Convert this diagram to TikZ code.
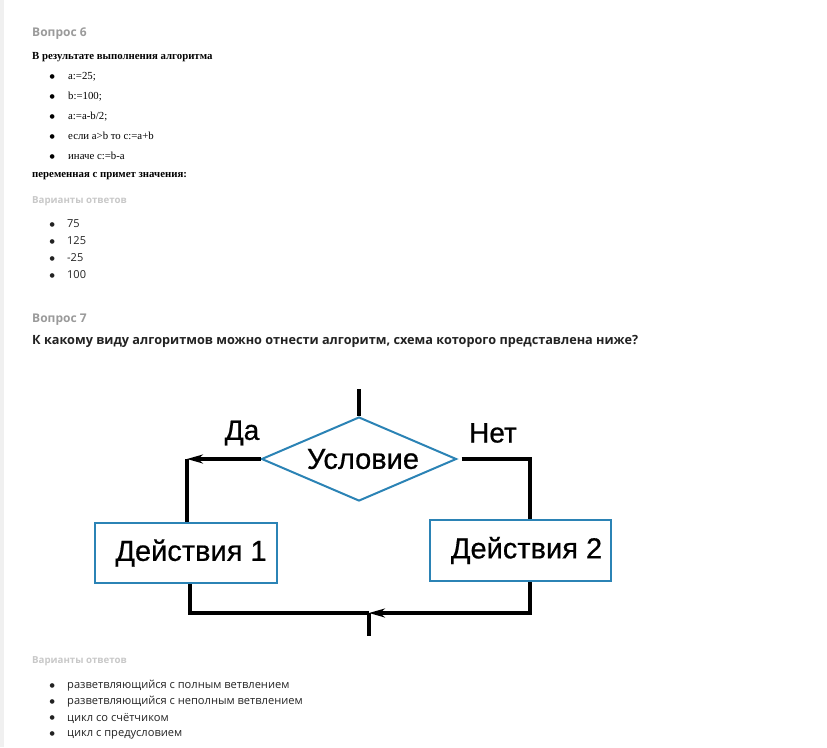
\documentclass[tikz,border=0pt]{standalone}
\usepackage{fontspec}
\setmainfont{Liberation Serif}
\newfontfamily\osans{Open Sans}
\newfontfamily\arsans[FakeBold=0.6]{Liberation Sans}
\newfontfamily\dejavu{DejaVu Sans}
\usetikzlibrary{shapes.geometric,arrows.meta}
\definecolor{qgray}{HTML}{9A9A9A}
\definecolor{lgray}{HTML}{C8C8C8}
\definecolor{txt}{HTML}{222222}
\definecolor{fblue}{HTML}{2B83B5}
\definecolor{strip}{HTML}{F0F0F0}
\newcommand{\blt}[1]{\makebox[#1][l]{\raisebox{0.12em}{\dejavu\fontsize{6}{6}\selectfont ●}}}
\begin{document}
\begin{tikzpicture}[x=1pt,y=-1pt,
  tn/.style={anchor=west,inner sep=0pt},
  qhead/.style={tn,text=qgray,font=\osans\bfseries\fontsize{12}{14}\selectfont},
  vhead/.style={tn,text=lgray,font=\osans\bfseries\fontsize{9.7}{11}\selectfont},
  serifb/.style={tn,text=black,font=\bfseries\fontsize{10.8}{12}\selectfont},
  serifi/.style={tn,text=black,font=\fontsize{10.8}{12}\selectfont},
  ans1/.style={tn,text=txt,font=\osans\fontsize{11}{13}\selectfont},
  ans2/.style={tn,text=txt,font=\osans\fontsize{11.1}{13}\selectfont},
  qtitle/.style={tn,text=txt,font=\osans\bfseries\fontsize{12.7}{15}\selectfont},
  flowbox/.style={draw=fblue,line width=2pt,rectangle,inner sep=0pt,font=\arsans\fontsize{29}{33}\selectfont},
  flowdia/.style={draw=fblue,line width=2pt,diamond,inner sep=0pt,font=\arsans\fontsize{29}{33}\selectfont},
  flowlbl/.style={inner sep=0pt,font=\arsans\fontsize{28}{32}\selectfont},
  conn/.style={line width=3.2pt,draw=black},
  arr/.style={conn,-{Stealth[length=16pt,width=9pt]}}
]
\useasboundingbox (0,0) rectangle (827,747);
\fill[strip] (0,0) rectangle (4,747);

% Question 6
\node[qhead] (q6) at (32,34) {Вопрос 6};
\node[serifb] (q6t) at (32,57) {В результате выполнения алгоритма};
\node[serifi] (i1) at (49.5,77) {\blt{18.5pt}a:=25;};
\node[serifi] (i2) at (49.5,97) {\blt{18.5pt}b:=100;};
\node[serifi] (i3) at (49.5,117) {\blt{18.5pt}a:=a-b/2;};
\node[serifi] (i4) at (49.5,136) {\blt{18.5pt}если a>b то c:=a+b};
\node[serifi] (i5) at (49.5,156) {\blt{18.5pt}иначе c:=b-a};
\node[serifb] (q6e) at (32,176) {переменная с примет значения:};

\node[vhead] (v6) at (32,201) {Варианты ответов};
\node[ans1] (a1) at (49.5,224) {\blt{17.5pt}75};
\node[ans1] (a2) at (49.5,241) {\blt{17.5pt}125};
\node[ans1] (a3) at (49.5,258) {\blt{17.5pt}-25};
\node[ans1] (a4) at (49.5,275) {\blt{17.5pt}100};

% Question 7
\node[qhead] (q7) at (32,320) {Вопрос 7};
\node[qtitle] (q7t) at (32,341) {К какому виду алгоритмов можно отнести алгоритм, схема которого представлена ниже?};

% Flowchart
\node[flowdia,minimum width=195pt,minimum height=84pt,aspect=2.3] (d) at (359,459) {\hspace{8pt}Условие};
\node[flowbox,minimum width=182pt,minimum height=60pt] (b1) at (186,553) {\hspace{10pt}Действия 1};
\node[flowbox,minimum width=181pt,minimum height=61pt] (b2) at (520.5,550.5) {\hspace{12pt}Действия 2};
\node[flowlbl] (da) at (242,433) {Да};
\node[flowlbl] (net) at (493,433) {Нет};

\coordinate (in) at (359,389);
\coordinate (lc) at (187,459);
\coordinate (rc) at (530,459);
\coordinate (m) at (369,613);
\coordinate (out) at (369,636);

\draw[conn] (in) -- (d.north);
\draw[arr] (d.west) -- (lc);
\draw[conn] (lc) -- (b1.north -| lc);
\draw[conn] ([xshift=4pt]d.east) -- (rc) -- (b2.north -| rc);
\draw[conn] (b1.south -| 190,0) |- (m);
\draw[arr] (b2.south -| rc) |- (m);
\draw[conn] (m) -- (out);

% Answers
\node[vhead] (v7) at (32,661) {Варианты ответов};
\node[ans2] (c1) at (49.5,686) {\blt{17.5pt}разветвляющийся с полным ветвлением};
\node[ans2] (c2) at (49.5,702) {\blt{17.5pt}разветвляющийся с неполным ветвлением};
\node[ans2] (c3) at (49.5,718) {\blt{17.5pt}цикл со счётчиком};
\node[ans2] (c4) at (49.5,735) {\blt{17.5pt}цикл с предусловием};
\end{tikzpicture}
\end{document}
